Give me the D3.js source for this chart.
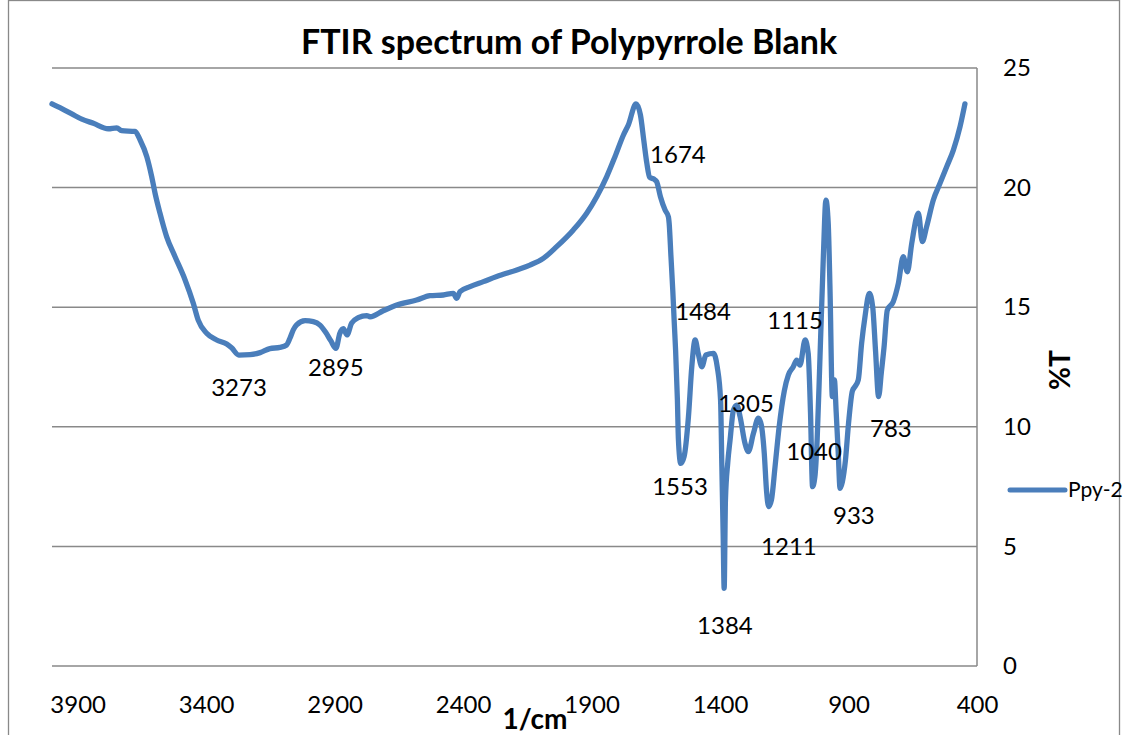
<!DOCTYPE html>
<html>
<head>
<meta charset="utf-8">
<script src="https://cdn.jsdelivr.net/npm/d3@7/dist/d3.min.js"></script>
<style>
  html, body { margin: 0; padding: 0; background: #fff; overflow: hidden; }
  svg { display: block; }
  text { font-family: Lato, "Open Sans", sans-serif; fill: #000; }
</style>
</head>
<body>
<svg id="chart" width="1127" height="735"></svg>
<script>
// FTIR spectrum of the blank polypyrrole film, wavenumber (1/cm) vs %T
const wavenumbers = [
  4000, 3962, 3923, 3884, 3839, 3781, 3748, 3729, 3677, 3657,
  3631, 3612, 3599, 3580, 3554, 3521, 3482, 3450, 3431, 3398,
  3359, 3320, 3301, 3273, 3229, 3190, 3152, 3113, 3087, 3074,
  3061, 3048, 3015, 2983, 2957, 2935, 2915, 2895, 2880, 2866,
  2852, 2834, 2808, 2775, 2762, 2711, 2658, 2581, 2529, 2477,
  2438, 2425, 2412, 2373, 2321, 2269, 2191, 2140, 2088, 2036,
  1971, 1919, 1880, 1841, 1809, 1776, 1757, 1727, 1710, 1697,
  1685, 1674, 1657, 1647, 1632, 1614, 1601, 1598, 1591, 1584,
  1578, 1573, 1566, 1562, 1553, 1540, 1523, 1510, 1497, 1485,
  1471, 1455, 1426, 1411, 1398, 1393, 1388, 1384, 1379, 1370,
  1361, 1348, 1335, 1322, 1303, 1290, 1270, 1251, 1240, 1228,
  1219, 1211, 1200, 1186, 1170, 1150, 1134, 1115, 1102, 1089,
  1069, 1057, 1048, 1040, 1031, 1022, 1011, 998, 988, 979,
  972, 963, 955, 948, 940, 933, 924, 912, 900, 885,
  875, 862, 849, 836, 819, 806, 795, 783, 772, 762,
  749, 726, 706, 687, 671, 654, 628, 613, 596, 570,
  544, 518, 492, 466, 447
];
const transmittance = [
  23.50, 23.30, 23.08, 22.86, 22.69, 22.46, 22.50, 22.38, 22.35, 21.99,
  21.29, 20.46, 19.77, 18.94, 17.95, 17.11, 16.14, 15.16, 14.46, 13.91,
  13.63, 13.46, 13.30, 13.00, 13.02, 13.10, 13.27, 13.32, 13.42, 13.70,
  14.05, 14.26, 14.44, 14.40, 14.25, 13.95, 13.60, 13.28, 13.90, 14.10,
  13.84, 14.33, 14.56, 14.65, 14.60, 14.85, 15.09, 15.30, 15.48, 15.51,
  15.58, 15.37, 15.65, 15.86, 16.07, 16.28, 16.56, 16.76, 17.04, 17.53,
  18.23, 18.93, 19.62, 20.46, 21.29, 22.20, 22.62, 23.50, 23.04, 21.99,
  21.02, 20.43, 20.35, 20.25, 19.62, 19.06, 18.78, 18.50, 17.10, 15.70,
  14.30, 13.20, 11.12, 9.45, 8.47, 8.75, 10.42, 12.51, 13.63, 13.07,
  12.51, 13.00, 13.07, 12.51, 11.12, 8.33, 5.55, 3.25, 6.94, 8.50,
  9.45, 10.70, 10.91, 10.42, 9.31, 8.96, 9.73, 10.36, 10.10, 8.90,
  7.30, 6.66, 6.94, 8.33, 10.00, 11.50, 12.17, 12.51, 12.79, 12.58,
  13.63, 13.07, 10.60, 7.50, 7.90, 9.50, 12.93, 17.11, 19.48, 18.50,
  15.72, 11.26, 11.96, 10.60, 8.90, 7.43, 7.70, 8.60, 10.14, 11.50,
  11.68, 11.96, 13.49, 14.60, 15.58, 15.02, 13.20, 11.26, 12.30, 13.30,
  14.88, 15.23, 16.00, 17.11, 16.48, 17.67, 18.93, 17.74, 18.37, 19.48,
  20.18, 20.87, 21.57, 22.55, 23.50
];
const seriesName = "Ppy-2";

const xTickValues = [3900, 3400, 2900, 2400, 1900, 1400, 900, 400];
const yTickValues = [0, 5, 10, 15, 20, 25];

// band assignments written on the plot, placed in data units [wavenumber, %T]
const peakLabels = ["3273", "2895", "1674", "1484", "1553", "1384",
                    "1305", "1211", "1115", "1040", "933", "783"];
const peakLabelAt = [
  [3272, 11.29], [2895, 12.12], [1564, 21.03], [1466, 14.46],
  [1556, 7.15], [1381, 1.34], [1299, 10.62], [1132, 4.64],
  [1108, 14.09], [1034, 8.61], [879, 5.94], [735, 9.57]
];

const svg = d3.select("#chart");
const plot = { left: 52, right: 977, top: 68, bottom: 666 };
const gridColor = "#898989";
const lineColor = "#4A7EBB";

// outer chart frame
svg.append("rect")
  .attr("x", 8.5).attr("y", 0.5)
  .attr("width", 1111).attr("height", 800)
  .attr("fill", "none").attr("stroke", gridColor).attr("stroke-width", 1.3);

const x = d3.scaleLinear().domain([4000, 400]).range([plot.left, plot.right]);
const y = d3.scaleLinear().domain([0, 25]).range([plot.bottom, plot.top]);

// horizontal gridlines
svg.append("g")
  .selectAll("line")
  .data(yTickValues)
  .join("line")
  .attr("x1", plot.left).attr("x2", plot.right)
  .attr("y1", d => y(d)).attr("y2", d => y(d))
  .attr("stroke", gridColor).attr("stroke-width", 1.5);

// right-hand value axis line
svg.append("line")
  .attr("x1", plot.right).attr("x2", plot.right)
  .attr("y1", y(25)).attr("y2", y(0))
  .attr("stroke", gridColor).attr("stroke-width", 1.5);

// value axis labels (right side)
const yAxis = d3.axisRight(y).tickValues(yTickValues).tickSize(0).tickPadding(26);
svg.append("g")
  .attr("transform", `translate(${plot.right},0)`)
  .call(yAxis)
  .call(g => g.select(".domain").remove())
  .selectAll("text")
  .attr("font-family", "Lato, 'Open Sans', sans-serif")
  .attr("font-size", 24)
  .attr("fill", "#000");

// wavenumber axis labels
const xAxis = d3.axisBottom(x).tickValues(xTickValues).tickSize(0).tickPadding(30)
  .tickFormat(d3.format("d"));
svg.append("g")
  .attr("transform", `translate(0,${plot.bottom})`)
  .call(xAxis)
  .call(g => g.select(".domain").remove())
  .selectAll("text")
  .attr("font-family", "Lato, 'Open Sans', sans-serif")
  .attr("font-size", 24)
  .attr("fill", "#000");

// spectrum trace
const points = wavenumbers.map((w, i) => [w, transmittance[i]]);
const line = d3.line()
  .x(d => x(d[0]))
  .y(d => y(d[1]))
  .curve(d3.curveMonotoneX);
svg.append("path")
  .datum(points)
  .attr("d", line)
  .attr("fill", "none")
  .attr("stroke", lineColor)
  .attr("stroke-width", 5.3)
  .attr("stroke-linejoin", "round")
  .attr("stroke-linecap", "round");

// band labels
svg.append("g")
  .selectAll("text")
  .data(peakLabels)
  .join("text")
  .attr("x", (d, i) => x(peakLabelAt[i][0]))
  .attr("y", (d, i) => y(peakLabelAt[i][1]))
  .attr("text-anchor", "middle")
  .attr("font-size", 24)
  .text(d => d);

// title and axis titles
svg.append("text")
  .attr("x", 569).attr("y", 54)
  .attr("text-anchor", "middle")
  .attr("font-size", 34).attr("font-weight", "bold")
  .text("FTIR spectrum of Polypyrrole Blank");

svg.append("text")
  .attr("x", 535).attr("y", 729)
  .attr("text-anchor", "middle")
  .attr("font-size", 28).attr("font-weight", "bold")
  .text("1/cm");

svg.append("text")
  .attr("transform", "translate(1070,370) rotate(-90)")
  .attr("text-anchor", "middle")
  .attr("font-size", 28).attr("font-weight", "bold")
  .text("%T");

// legend
const legend = svg.append("g").attr("transform", "translate(1010,490)");
legend.append("line")
  .attr("x1", 0).attr("x2", 55).attr("y1", 0).attr("y2", 0)
  .attr("stroke", lineColor).attr("stroke-width", 5).attr("stroke-linecap", "round");
legend.append("text")
  .attr("x", 58).attr("y", 7)
  .attr("font-size", 21)
  .text(seriesName);
</script>
</body>
</html>
